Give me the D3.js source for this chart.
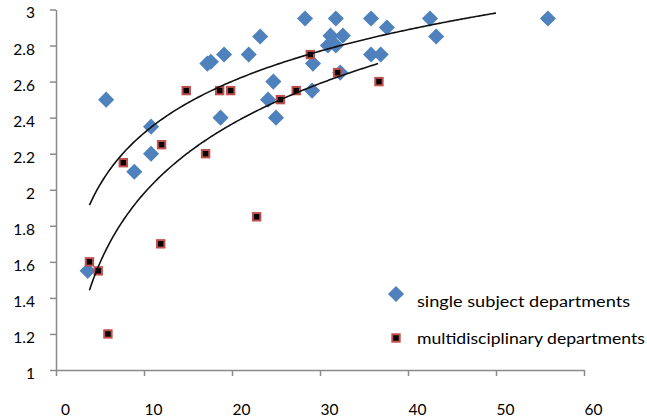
<!DOCTYPE html>
<html><head><meta charset="utf-8">
<script src="https://cdn.jsdelivr.net/npm/d3@7"></script>
<style>body{margin:0;background:#fff}svg{display:block}text{font-family:Lato,"Open Sans",sans-serif;fill:#000}</style>
</head><body><svg id="c" width="647" height="418"></svg>
<script>
const singleX = [3.6, 5.7, 8.9, 10.8, 10.8, 17.2, 17.6, 18.7, 19.1, 21.9, 23.2, 24.1, 24.7, 25.0, 28.3, 29.1, 29.2, 30.9, 31.2, 31.8, 31.8, 32.3, 32.6, 35.8, 35.8, 36.9, 37.6, 42.5, 43.2, 55.9];
const singleY = [1.55, 2.50, 2.10, 2.35, 2.20, 2.70, 2.71, 2.40, 2.75, 2.75, 2.85, 2.50, 2.60, 2.40, 2.95, 2.55, 2.70, 2.80, 2.855, 2.95, 2.80, 2.65, 2.855, 2.95, 2.75, 2.75, 2.90, 2.95, 2.85, 2.95];
const multiX = [3.8, 4.8, 5.9, 7.65, 11.9, 12.0, 14.8, 17.0, 18.6, 19.85, 22.8, 25.5, 27.3, 28.9, 32.0, 36.7];
const multiY = [1.60, 1.55, 1.20, 2.15, 1.70, 2.25, 2.55, 2.20, 2.55, 2.55, 1.85, 2.50, 2.55, 2.75, 2.65, 2.60];
// logarithmic trendlines y = a + b ln(x)
const trendA = [1.362, 0.702];
const trendB = [0.4137, 0.555];
const trendFrom = [3.8, 3.8];
const trendTo = [50, 36.6];
const xTicks = [0, 10, 20, 30, 40, 50, 60];
const yTicks = [1, 1.2, 1.4, 1.6, 1.8, 2, 2.2, 2.4, 2.6, 2.8, 3];
const seriesNames = ["single subject departments", "multidisciplinary departments"];

const svg = d3.select("#c");
const x = d3.scaleLinear().domain([0, 60]).range([56, 584]);
const y = d3.scaleLinear().domain([1, 3]).range([370, 9.5]);
const axisCol = "#8a8a8a";

// y axis
const ya = svg.append("g").attr("transform", `translate(${x(0)},0)`)
  .call(d3.axisLeft(y).tickValues(yTicks).tickSize(6).tickSizeOuter(0).tickFormat(d => d3.format("")(+d.toFixed(1))));
ya.select(".domain").attr("stroke", axisCol).attr("stroke-width", 1.5);
ya.selectAll(".tick line").attr("stroke", axisCol).attr("stroke-width", 1.5);
ya.selectAll(".tick text").attr("x", -21).attr("dy", "0.32em").attr("transform", "translate(0,3.5)")
  .style("font-size", "15.5px").style("font-family", "Lato");

// x axis
const xa = svg.append("g").attr("transform", `translate(0,${y(1)})`)
  .call(d3.axisBottom(x).tickValues(xTicks).tickSize(6).tickSizeOuter(0));
xa.select(".domain").attr("stroke", axisCol).attr("stroke-width", 1.5);
xa.selectAll(".tick line").attr("stroke", axisCol).attr("stroke-width", 1.5);
xa.selectAll(".tick text").attr("y", 0).attr("dy", 0).attr("transform", "translate(9,45)")
  .style("font-size", "15.5px").style("font-family", "Lato");

const blue = "#4f81bd", red = "#c0504d";
const diamond = (g, cx, cy) => g.append("rect").attr("x", -5.7).attr("y", -5.7).attr("width", 11.4).attr("height", 11.4)
  .attr("fill", blue).attr("transform", `translate(${cx},${cy}) rotate(45)`);
const square = (g, cx, cy) => g.append("rect").attr("x", cx - 3.7).attr("y", cy - 3.7).attr("width", 7.4).attr("height", 7.4)
  .attr("fill", "#000").attr("stroke", red).attr("stroke-width", 2);

const pts = svg.append("g");
singleX.forEach((v, i) => diamond(pts, x(v), y(singleY[i])));
multiX.forEach((v, i) => square(pts, x(v), y(multiY[i])));

// trendlines
const line = d3.line().x(d => x(d[0])).y(d => y(d[1])).curve(d3.curveLinear);
trendA.forEach((a, k) => {
  const xs = d3.range(0, 201).map(j => trendFrom[k] + (trendTo[k] - trendFrom[k]) * j / 200);
  svg.append("path").datum(xs.map(v => [v, a + trendB[k] * Math.log(v)]))
    .attr("d", line).attr("fill", "none").attr("stroke", "#111").attr("stroke-width", 1.6);
});

// legend
const lg = svg.append("g");
diamond(lg, 396, 294);
square(lg, 396, 338);
lg.append("text").attr("x", 417).attr("y", 307).style("font-size", "15.5px")
  .attr("textLength", 213).attr("lengthAdjust", "spacingAndGlyphs").text(seriesNames[0]);
lg.append("text").attr("x", 417).attr("y", 344).style("font-size", "15.5px")
  .attr("textLength", 228).attr("lengthAdjust", "spacingAndGlyphs").text(seriesNames[1]);
</script></body></html>
